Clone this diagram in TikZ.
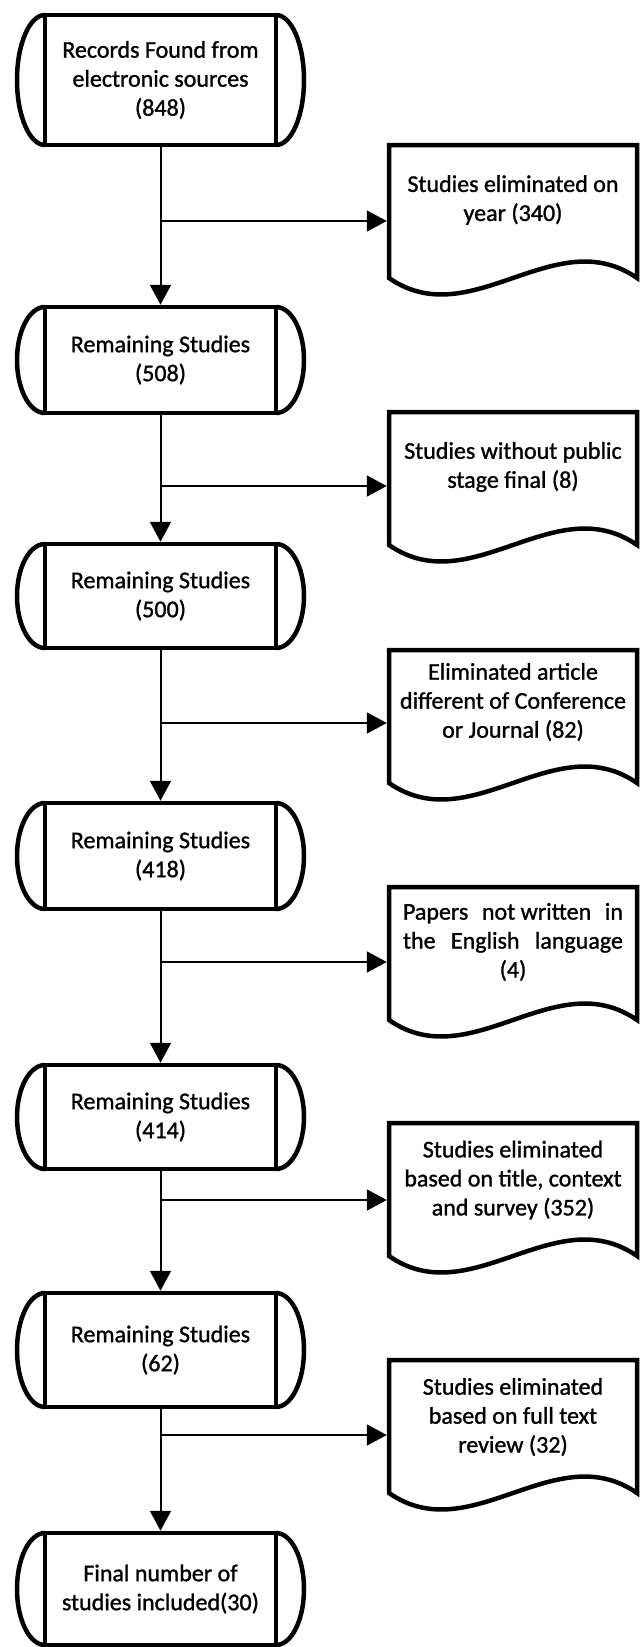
\documentclass[tikz,border=0pt]{standalone}
\usepackage{fontspec}
\setmainfont{Carlito}
\newfontfamily\diagfont{Carlito}[FakeBold=1.2]
\usetikzlibrary{arrows.meta,calc}
\newcommand\boxfont{\diagfont\fontsize{24}{29}\selectfont}
\newcommand\termarcs[2]{%
  \draw[termline] (#1.north west) arc[start angle=90,end angle=270,x radius=28pt,y radius=#2pt];
  \draw[termline] (#1.south east) arc[start angle=-90,end angle=90,x radius=28pt,y radius=#2pt];}
\newcommand\docoutline[1]{%
  \draw[docline] (389,-#1) -- (637,-#1) -- (637,{-(#1+133)})
    .. controls (555,{-(#1+76)}) and (471,{-(#1+190)}) .. (389,{-(#1+133)}) -- cycle;}
\tikzset{
  termline/.style={line width=4.5pt},
  docline/.style={line width=4.5pt, line join=miter},
  term/.style={draw, line width=4.5pt, minimum width=231pt, inner sep=0pt, outer sep=0pt, align=center, font=\boxfont},
  doctext/.style={minimum width=248pt, inner sep=0pt, outer sep=2.25pt, align=center, font=\boxfont},
  conn/.style={line width=2pt, -{Triangle[length=20pt,width=21pt]}},
  vconn/.style={conn, shorten >=2.25pt}
}
\begin{document}
\begin{tikzpicture}[x=1pt,y=1pt]
\useasboundingbox (0,0) rectangle (643,-1647);
% left column
\node[term, minimum height=130pt] (B1) at (160.5,-80) {Records Found from\\electronic sources\\(848)};
\node[term, minimum height=106pt] (B2) at (160.5,-360) {Remaining Studies\\(508)};
\node[term, minimum height=104pt] (B3) at (160.5,-596) {Remaining Studies\\(500)};
\node[term, minimum height=106pt] (B4) at (160.5,-856) {Remaining Studies\\(418)};
\node[term, minimum height=104pt] (B5) at (160.5,-1117) {Remaining Studies\\(414)};
\node[term, minimum height=114pt] (B6) at (160.5,-1350) {Remaining Studies\\(62)};
\node[term, minimum height=112pt] (B7) at (160.5,-1589) {Final number of\\studies included(30)};
\termarcs{B1}{65}
\termarcs{B2}{53}
\termarcs{B3}{52}
\termarcs{B4}{53}
\termarcs{B5}{52}
\termarcs{B6}{57}
\termarcs{B7}{56}
% right column
\docoutline{145}
\docoutline{412}
\docoutline{650}
\docoutline{887}
\docoutline{1123}
\docoutline{1360}
\node[doctext] (D1) at (513,-200) {Studies eliminated on\\year (340)};
\node[doctext] (D2) at (513,-467) {Studies without public\\stage final (8)};
\node[doctext] (D3) at (513,-702) {Eliminated article\\different of Conference\\or Journal (82)};
\node[doctext] (D4) at (513,-942) {\makebox[220pt][s]{Papers\hfill not written\hfill in}\\\makebox[220pt][s]{the\hfill English\hfill language}\\(4)};
\node[doctext] (D5) at (513,-1180) {Studies eliminated\\based on title, context\\and survey (352)};
\node[doctext] (D6) at (513,-1417) {Studies eliminated\\based on full text\\review (32)};
% branch points
\coordinate (b1) at (B1.south |- 0,-221);
\coordinate (b2) at (B2.south |- 0,-486);
\coordinate (b3) at (B3.south |- 0,-723);
\coordinate (b4) at (B4.south |- 0,-962);
\coordinate (b5) at (B5.south |- 0,-1200);
\coordinate (b6) at (B6.south |- 0,-1435);
% connectors
\draw[vconn] (B1.south) -- (B2.north);
\draw[vconn] (B2.south) -- (B3.north);
\draw[vconn] (B3.south) -- (B4.north);
\draw[vconn] (B4.south) -- (B5.north);
\draw[vconn] (B5.south) -- (B6.north);
\draw[vconn] (B6.south) -- (B7.north);
\draw[conn] (b1) -- (D1.west |- b1);
\draw[conn] (b2) -- (D2.west |- b2);
\draw[conn] (b3) -- (D3.west |- b3);
\draw[conn] (b4) -- (D4.west |- b4);
\draw[conn] (b5) -- (D5.west |- b5);
\draw[conn] (b6) -- (D6.west |- b6);
\end{tikzpicture}
\end{document}
